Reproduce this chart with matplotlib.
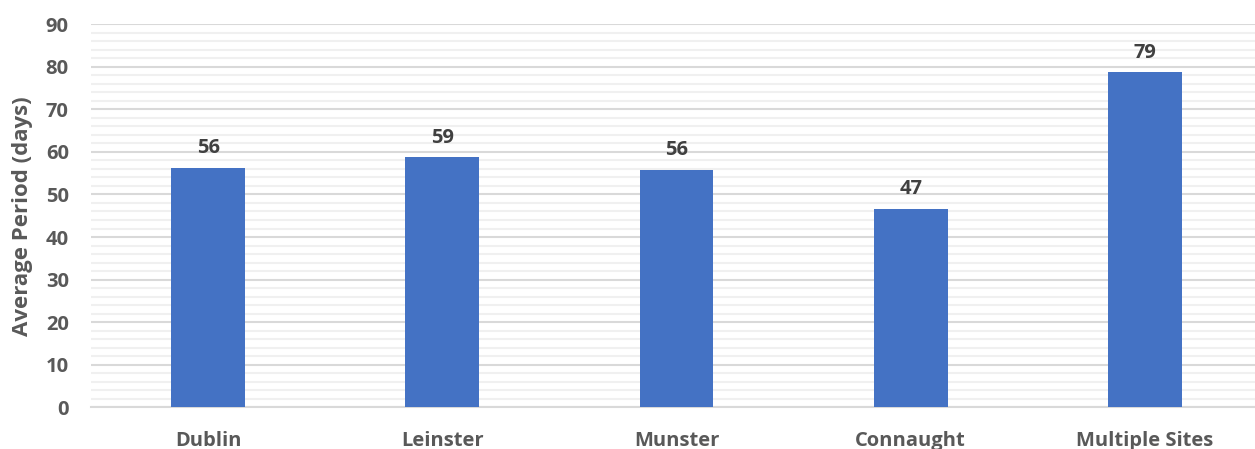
import matplotlib.pyplot as plt
from matplotlib.ticker import MultipleLocator

regions = ["Dublin", "Leinster", "Munster", "Connaught", "Multiple Sites"]
avg_days = [56.2, 58.7, 55.7, 46.6, 78.7]

plt.rcParams['font.family'] = ['Open Sans', 'DejaVu Sans']

fig, ax = plt.subplots(figsize=(12.55, 4.49), dpi=100)
fig.subplots_adjust(left=0.0725, right=1.0, top=0.946, bottom=0.093)

x = range(len(regions))
bars = ax.bar(x, avg_days, width=0.315, color='#4472c4', zorder=3)
ax.bar_label(bars, fmt='%.0f', padding=7, fontsize=14.5, fontweight='bold', color='#404040')

ax.set_xlim(-0.5, len(regions) - 0.53)
ax.set_ylim(0, 90)
ax.yaxis.set_major_locator(MultipleLocator(10))
ax.yaxis.set_minor_locator(MultipleLocator(2))
ax.set_xticks(list(x))
ax.set_xticklabels(regions)

# major lines every 10 days, lighter minor lines every 2
ax.grid(axis='y', which='major', color='#d9d9d9', linewidth=1.5, zorder=0)
ax.grid(axis='y', which='minor', color='#f0f0f0', linewidth=1.5, zorder=0)

for side in ['top', 'right', 'left']:
    ax.spines[side].set_visible(False)
ax.spines['bottom'].set_color('#d9d9d9')
ax.spines['bottom'].set_linewidth(1.5)

ax.tick_params(axis='both', which='both', length=0)
ax.tick_params(axis='y', pad=16, labelsize=14.5, labelcolor='#595959')
ax.tick_params(axis='x', pad=17, labelsize=14.5, labelcolor='#595959')
for lbl in ax.get_xticklabels() + ax.get_yticklabels():
    lbl.set_fontweight('bold')

ax.set_ylabel("Average Period (days)", fontsize=16, fontweight='bold', color='#595959', labelpad=9)

plt.savefig("out.png")
